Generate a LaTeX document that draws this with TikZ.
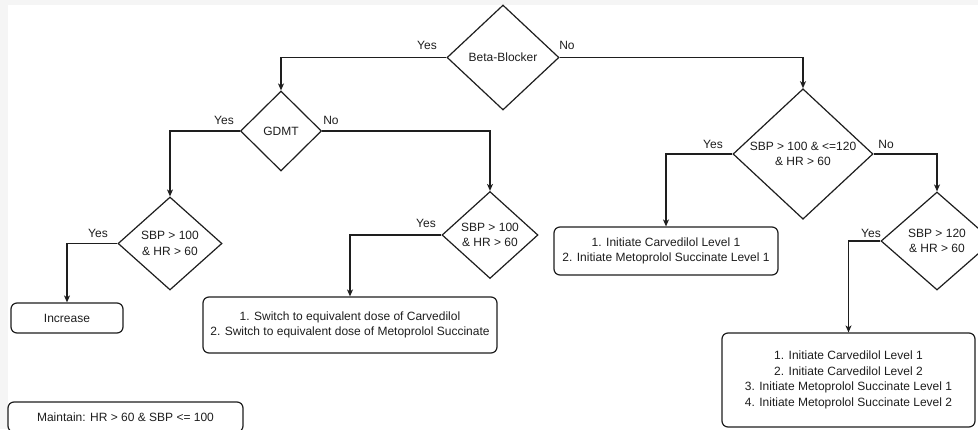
\documentclass[tikz,border=0pt]{standalone}
\usepackage{fontspec}
\setmainfont{Liberation Sans}
\usetikzlibrary{shapes.geometric,arrows.meta}
\definecolor{ink}{RGB}{30,30,30}
\definecolor{frame}{RGB}{245,245,245}
\begin{document}
\begin{tikzpicture}[x=1pt,y=-1pt,
  font=\fontsize{12}{15.5}\selectfont,
  every node/.append style={text=ink},
  decision/.style={diamond,draw=ink,line width=1.2pt,aspect=1,inner sep=0pt,align=center},
  action/.style={rectangle,rounded corners=6pt,draw=ink,line width=1.2pt,inner sep=0pt,align=center},
  link/.style={draw=ink,line width=1.2pt,-{Stealth[length=7pt,width=6pt,inset=2pt]}},
  answer/.style={inner sep=0pt}]
\useasboundingbox (0,0) rectangle (978,429);
\clip (0,0) rectangle (978,429);
\fill[frame] (0,0) rectangle (978,429);
\fill[white] (8,5) rectangle (978,429);

% decisions
\node[decision,minimum width=112pt,minimum height=105pt] (bb) at (503,57.5) {Beta-Blocker};
\node[decision,minimum width=81pt,minimum height=80pt] (gdmt) at (281,131) {GDMT};
\node[decision,minimum width=104pt,minimum height=93pt] (lsbp) at (170,243.5) {SBP > 100\\\& HR > 60};
\node[decision,minimum width=96pt,minimum height=87pt] (msbp) at (490,235) {SBP > 100\\\& HR > 60};
\node[decision,minimum width=140pt,minimum height=128pt] (big) at (803,154) {SBP > 100 \& <=120\\\& HR > 60};
\node[decision,minimum width=112pt,minimum height=98pt] (rsbp) at (937,241) {SBP > 120\\\& HR > 60};

% actions
\node[action,minimum width=112pt,minimum height=30pt] (inc) at (67,318) {Increase};
\node[action,minimum width=294pt,minimum height=56pt] (sw) at (350,325) {1. Switch to equivalent dose of Carvedilol\\2. Switch to equivalent dose of Metoprolol Succinate};
\node[action,minimum width=224pt,minimum height=48pt] (carv) at (666,251) {1. Initiate Carvedilol Level 1\\2. Initiate Metoprolol Succinate Level 1};
\node[action,minimum width=253pt,minimum height=94pt] (four) at (848.5,380) {1. Initiate Carvedilol Level 1\\2. Initiate Carvedilol Level 2\\3. Initiate Metoprolol Succinate Level 1\\4. Initiate Metoprolol Succinate Level 2};
\node[action,minimum width=235pt,minimum height=30pt] (keep) at (125.5,417) {Maintain: HR > 60 \& SBP <= 100};

% connectors
\draw[link] (bb.west) -| (gdmt.north);
\draw[link] (bb.east) -| (big.north);
\draw[link] (gdmt.west) -| (lsbp.north);
\draw[link] (gdmt.east) -| (msbp.north);
\draw[link] (lsbp.west) -| (inc.north);
\draw[link] (msbp.west) -| (sw.north);
\draw[link] (big.west) -| (carv.north);
\draw[link] (big.east) -| (rsbp.north);
\draw[link] (rsbp.west) -| (four.north);

% branch labels
\node[answer] (bbyes) at (427,45) {Yes};
\node[answer] (bbno) at (567,45) {No};
\node[answer] (gyes) at (224,120) {Yes};
\node[answer] (gno) at (331,120) {No};
\node[answer] (lyes) at (98,233) {Yes};
\node[answer] (myes) at (426,223) {Yes};
\node[answer] (byes) at (713,144) {Yes};
\node[answer] (bno) at (886,144) {No};
\node[answer] (ryes) at (871,233) {Yes};
\end{tikzpicture}
\end{document}
